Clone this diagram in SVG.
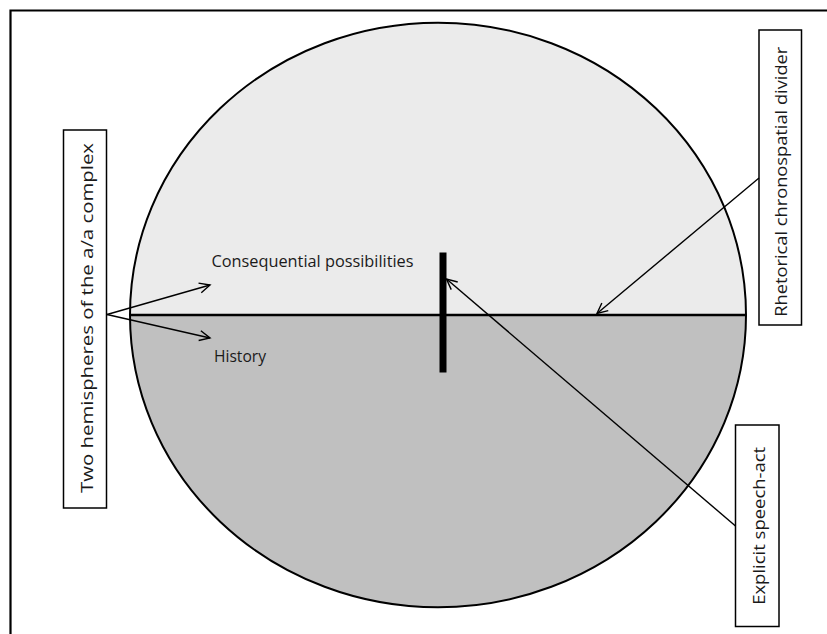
<svg xmlns="http://www.w3.org/2000/svg" width="827" height="634" viewBox="0 0 827 634">
<defs>
<style>
.lbl{font-family:"Open Sans","Liberation Sans",sans-serif;font-size:16px;fill:#1a1a1a}
.box{fill:#fff;stroke:#000;stroke-width:1.5}
.arr{stroke:#000;stroke-width:1.4;fill:none;marker-end:url(#ah)}
</style>
<marker id="ah" markerUnits="userSpaceOnUse" markerWidth="14" markerHeight="14" viewBox="0 0 14 14" refX="12" refY="7" orient="auto">
<path d="M1.5,2 L12,7 L1.5,12" fill="none" stroke="#000" stroke-width="1.4"/>
</marker>
</defs>
<rect width="827" height="634" fill="#fff"/>
<path d="M10.5,634 V10.5 H827" fill="none" stroke="#000" stroke-width="2.2"/>
<g id="sphere">
<path d="M130,315 A308,292.3 0 0 1 746,315 Z" fill="#EBEBEB"/>
<path d="M130,315 A308,292.3 0 0 0 746,315 Z" fill="#C0C0C0"/>
<ellipse cx="438" cy="315" rx="308" ry="292.3" fill="none" stroke="#000" stroke-width="2"/>
</g>
<g id="divider">
<line x1="130" y1="315" x2="746" y2="315" stroke="#000" stroke-width="2.5"/>
</g>
<g id="speech-act-bar">
<rect x="439.5" y="252.5" width="7" height="120" fill="#000"/>
</g>
<g id="label-consequential">
<text class="lbl" x="211.5" y="266.5" textLength="202" lengthAdjust="spacingAndGlyphs">Consequential  possibilities</text>
</g>
<g id="label-history">
<text class="lbl" x="214" y="361.5" textLength="52" lengthAdjust="spacingAndGlyphs">History</text>
</g>
<g id="box-hemispheres">
<rect class="box" x="63.5" y="130" width="43" height="378"/>
<text class="lbl" font-size="18" text-anchor="middle" transform="translate(93,318) rotate(-90)" textLength="350" lengthAdjust="spacingAndGlyphs">Two hemispheres of the a/a complex</text>
</g>
<g id="box-divider">
<rect class="box" x="759" y="30" width="42.5" height="295"/>
<text class="lbl" font-size="18" text-anchor="middle" transform="translate(786.5,181.7) rotate(-90)" textLength="270" lengthAdjust="spacingAndGlyphs">Rhetorical chronospatial divider</text>
</g>
<g id="box-speech-act">
<rect class="box" x="735.5" y="425" width="43.5" height="201.5"/>
<text class="lbl" font-size="18" text-anchor="middle" transform="translate(765,525.8) rotate(-90)" textLength="158" lengthAdjust="spacingAndGlyphs">Explicit speech-act</text>
</g>
<g id="connectors">
<line class="arr" x1="107" y1="314.5" x2="210" y2="285"/>
<line class="arr" x1="107" y1="314.5" x2="210" y2="338"/>
<line class="arr" x1="759" y1="178" x2="597" y2="313.5"/>
<line class="arr" x1="735.5" y1="526" x2="446.5" y2="279"/>
</g>
</svg>
